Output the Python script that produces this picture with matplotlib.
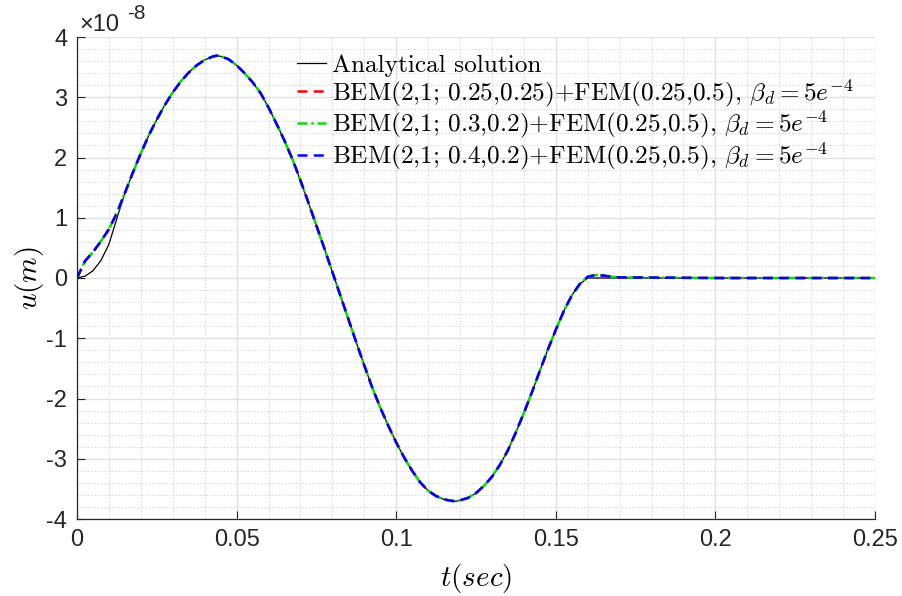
import matplotlib
matplotlib.use("Agg")
import matplotlib.pyplot as plt
from matplotlib.ticker import MultipleLocator, FixedLocator, FixedFormatter

plt.rcParams['mathtext.fontset'] = 'cm'

# time samples (s)
t_sec = [0, 0.0025, 0.005, 0.0075, 0.01, 0.0125, 0.015, 0.0175, 0.02, 0.0225,
         0.025, 0.0275, 0.03, 0.0325, 0.035, 0.0375, 0.04, 0.0425, 0.04375, 0.045, 0.0475,
         0.05, 0.0525, 0.055, 0.0575, 0.06, 0.0625, 0.065, 0.0675, 0.07, 0.0725,
         0.075, 0.0775, 0.08, 0.0825, 0.085, 0.0875, 0.09, 0.0925, 0.095, 0.0975,
         0.1, 0.1025, 0.105, 0.1075, 0.11, 0.1125, 0.115, 0.1175, 0.11875, 0.12, 0.1225,
         0.125, 0.1275, 0.13, 0.1325, 0.135, 0.1375, 0.14, 0.1425, 0.145, 0.1475,
         0.15, 0.1525, 0.155, 0.1575, 0.16, 0.1625, 0.165, 0.1675, 0.17, 0.2, 0.25]

# displacement in units of 1e-8 m
u_analytical = [0, 0.03, 0.12, 0.29, 0.56, 0.99, 1.41, 1.75, 2.07, 2.37,
                2.63, 2.87, 3.08, 3.26, 3.41, 3.53, 3.62, 3.675, 3.69, 3.68, 3.63,
                3.53, 3.40, 3.25, 3.07, 2.83, 2.56, 2.28, 1.97, 1.62, 1.25,
                0.87, 0.49, 0.10, -0.29, -0.68, -1.07, -1.45, -1.82, -2.15, -2.45,
                -2.73, -2.98, -3.20, -3.39, -3.53, -3.62, -3.675, -3.70, -3.705, -3.69, -3.65,
                -3.57, -3.45, -3.30, -3.10, -2.86, -2.56, -2.24, -1.90, -1.54, -1.19,
                -0.86, -0.55, -0.29, -0.10, 0.0, 0.0, 0.0, 0.0, 0.0, 0.0, 0.0]

u_bem_025_025 = [0, 0.28, 0.43, 0.61, 0.81, 1.08, 1.41, 1.75, 2.07, 2.37,
                 2.63, 2.87, 3.08, 3.26, 3.41, 3.53, 3.62, 3.675, 3.69, 3.68, 3.63,
                 3.53, 3.40, 3.25, 3.07, 2.83, 2.56, 2.28, 1.97, 1.62, 1.25,
                 0.87, 0.49, 0.10, -0.29, -0.68, -1.07, -1.45, -1.82, -2.15, -2.45,
                 -2.73, -2.98, -3.20, -3.39, -3.53, -3.62, -3.675, -3.70, -3.705, -3.69, -3.65,
                 -3.57, -3.45, -3.30, -3.10, -2.86, -2.56, -2.24, -1.90, -1.54, -1.19,
                 -0.86, -0.55, -0.29, -0.10, 0.02, 0.05, 0.04, 0.02, 0.01, 0.0, 0.0]
u_bem_03_02 = list(u_bem_025_025)
u_bem_04_02 = list(u_bem_025_025)

labels = [
    'Analytical solution',
    r'BEM(2,1; 0.25,0.25)+FEM(0.25,0.5), $\beta_d=5e^{-4}$',
    r'BEM(2,1; 0.3,0.2)+FEM(0.25,0.5), $\beta_d=5e^{-4}$',
    r'BEM(2,1; 0.4,0.2)+FEM(0.25,0.5), $\beta_d=5e^{-4}$',
]

x_ticks = [0, 0.05, 0.1, 0.15, 0.2, 0.25]
x_ticklabels = ['0', '0.05', '0.1', '0.15', '0.2', '0.25']
y_ticks = [-4, -3, -2, -1, 0, 1, 2, 3, 4]
y_ticklabels = ['-4', '-3', '-2', '-1', '0', '1', '2', '3', '4']

fig = plt.figure(figsize=(9.02, 5.96), dpi=100)
ax = fig.add_axes([77 / 902, 1 - 519 / 596, 798 / 902, 482 / 596])

ax.plot(t_sec, u_analytical, color='black', lw=0.9, label=labels[0])
ax.plot(t_sec, u_bem_025_025, color='red', lw=1.8, ls=(0, (4, 2.5)), label=labels[1])
ax.plot(t_sec, u_bem_03_02, color='#00e000', lw=1.8, ls=(0, (4, 1.5, 1, 1.5)), label=labels[2])
ax.plot(t_sec, u_bem_04_02, color='blue', lw=1.8, ls=(0, (4, 2.5)), label=labels[3])

ax.set_xlim(0, 0.25)
ax.set_ylim(-4, 4)
ax.xaxis.set_major_locator(FixedLocator(x_ticks))
ax.xaxis.set_major_formatter(FixedFormatter(x_ticklabels))
ax.yaxis.set_major_locator(FixedLocator(y_ticks))
ax.yaxis.set_major_formatter(FixedFormatter(y_ticklabels))
ax.xaxis.set_minor_locator(MultipleLocator(0.01))
ax.yaxis.set_minor_locator(MultipleLocator(0.2))

ax.grid(which='major', color='#e0e0e0', lw=1.0, ls='-')
ax.grid(which='minor', color='#d4d4d4', lw=0.7, ls=(0, (1.5, 2)))
ax.set_axisbelow(True)

for side in ('top', 'right'):
    ax.spines[side].set_visible(False)
for side in ('left', 'bottom'):
    ax.spines[side].set_color('#262626')
    ax.spines[side].set_linewidth(0.9)

ax.tick_params(which='major', direction='in', length=6, width=0.8, color='#262626',
               labelsize=17, labelcolor='#262626', pad=7)
ax.tick_params(which='minor', length=0)
for lbl in ax.get_xticklabels() + ax.get_yticklabels():
    lbl.set_family('Liberation Sans')

ax.set_xlabel(r'$t(sec)$', fontsize=21, labelpad=8)
ax.set_ylabel(r'$u(m)$', fontsize=21, labelpad=0)

# exponent marker for the y axis
fig.text(79 / 902, 1 - 31 / 596, '×10', fontsize=17, family='Liberation Sans',
         color='#262626', va='baseline', ha='left')
fig.text(127 / 902, 1 - 19 / 596, '-8', fontsize=15, family='Liberation Sans',
         color='#262626', va='baseline', ha='left')

leg = ax.legend(loc='upper left', bbox_to_anchor=((297 - 77) / 798, (519 - 54) / 482),
                frameon=False, prop={'family': 'cmr10', 'size': 18.2},
                handlelength=1.15, handletextpad=0.25, labelspacing=0.0,
                borderpad=0, borderaxespad=0)

fig.savefig('out.png', dpi=100)
